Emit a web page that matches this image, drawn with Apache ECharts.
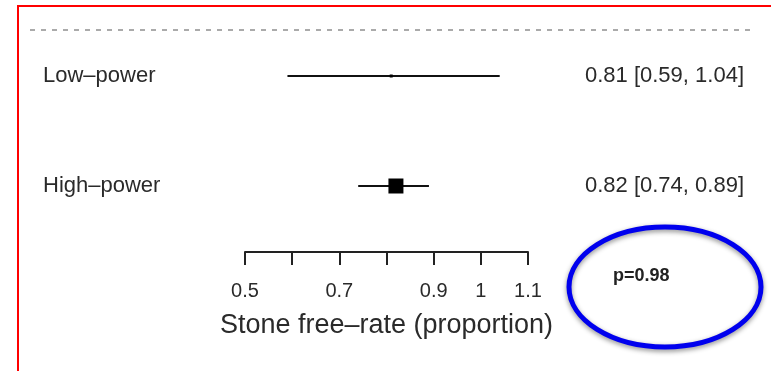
<!DOCTYPE html>
<html>
<head>
<meta charset="utf-8">
<script src="https://cdn.jsdelivr.net/npm/echarts@6/dist/echarts.min.js"></script>
<style>html,body{margin:0;padding:0;background:#fff}#c{width:771px;height:371px}</style>
</head>
<body>
<div id="c"></div>
<script>
// ---- data ----
const groups = ['Low–power', 'High–power'];
const estimates = [0.81, 0.82];
const lowerCI = [0.59, 0.74];
const upperCI = [1.04, 0.89];
const ciLabels = ['0.81 [0.59, 1.04]', '0.82 [0.74, 0.89]'];
const tickLabels = ['0.5', '0.7', '0.9', '1', '1.1'];
const axisTitle = 'Stone free–rate (proportion)';
const pValueText = 'p=0.98';

// ---- styles ----
const FONT = 'Liberation Sans, Arial, Helvetica, sans-serif';
const boxSizes = [3, 15];

const chart = echarts.init(document.getElementById('c'), null, {renderer: 'canvas'});
const seriesData = groups.map((g, i) => [lowerCI[i], estimates[i], upperCI[i], i]);

chart.setOption({
  animation: false,
  backgroundColor: '#fff',
  grid: {left: 245, right: 243, top: 21, height: 220, outerBoundsMode: 'none', containLabel: false},
  xAxis: {
    type: 'value', min: 0.5, max: 1.1, interval: 0.1, offset: 11,
    axisLine: {show: true, lineStyle: {color: '#222', width: 2}},
    axisTick: {show: true, length: 13, lineStyle: {color: '#222', width: 2}},
    splitLine: {show: false},
    axisLabel: {
      margin: 29, fontSize: 20, color: '#2a2a2a', fontFamily: FONT,
      showMinLabel: true, showMaxLabel: true, hideOverlap: false,
      formatter: v => {
        const s = String(Math.round(v * 100) / 100);
        return tickLabels.indexOf(s) >= 0 ? s : '';
      }
    },
    name: axisTitle, nameLocation: 'middle', nameGap: 60,
    nameTextStyle: {fontSize: 27, color: '#2a2a2a', fontFamily: FONT}
  },
  yAxis: [{
    type: 'category', data: groups, inverse: true,
    axisLine: {show: false}, axisTick: {show: false}, splitLine: {show: false},
    axisLabel: {align: 'left', margin: 202, fontSize: 22, color: '#2a2a2a', fontFamily: FONT}
  }, {
    type: 'category', data: ciLabels, inverse: true, position: 'right',
    axisLine: {show: false}, axisTick: {show: false}, splitLine: {show: false},
    axisLabel: {align: 'right', margin: 216, fontSize: 22, color: '#2a2a2a', fontFamily: FONT}
  }],
  series: [{
    type: 'custom',
    data: seriesData,
    encode: {x: [0, 1, 2], y: 3},
    renderItem: function (params, api) {
      const idx = api.value(3);
      const lo = api.coord([api.value(0), idx]);
      const mid = api.coord([api.value(1), idx]);
      const hi = api.coord([api.value(2), idx]);
      const s = boxSizes[idx];
      return {
        type: 'group',
        children: [{
          type: 'line',
          shape: {x1: lo[0], y1: lo[1], x2: hi[0], y2: hi[1]},
          style: {stroke: '#111', lineWidth: 2}
        }, {
          type: 'rect',
          shape: {x: mid[0] - s / 2, y: mid[1] - s / 2, width: s, height: s},
          style: {fill: '#000'}
        }]
      };
    }
  }],
  graphic: [{
    type: 'rect', silent: true,
    shape: {x: 18, y: 6, width: 800, height: 400},
    style: {fill: 'none', stroke: '#ff0000', lineWidth: 2}
  }, {
    type: 'line', silent: true,
    shape: {x1: 30, y1: 30, x2: 754, y2: 30},
    style: {stroke: '#aaa', lineWidth: 2, lineDash: [5, 6]}
  }, {
    type: 'ellipse', silent: true,
    shape: {cx: 665, cy: 287, rx: 96, ry: 60},
    style: {fill: 'none', stroke: '#0000ee', lineWidth: 5,
      shadowBlur: 5, shadowColor: 'rgba(0,0,0,0.45)', shadowOffsetY: 2}
  }, {
    type: 'text', silent: true,
    x: 613, y: 276,
    style: {text: pValueText, font: 'bold 18px ' + FONT, fill: '#222',
      verticalAlign: 'middle', align: 'left'}
  }]
});
</script>
</body>
</html>
